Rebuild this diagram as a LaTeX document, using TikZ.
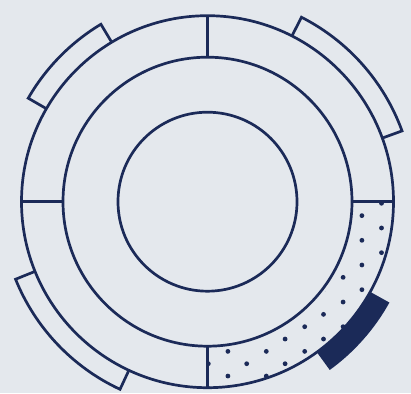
\documentclass[tikz,border=0pt]{standalone}
\definecolor{navy}{HTML}{1B2A58}
\definecolor{paper}{HTML}{E4E8ED}
\begin{document}
\begin{tikzpicture}[x=1pt,y=1pt,line width=2.7pt,draw=navy]
    \def\rin{89.5}
    \def\rmid{144.5}
    \def\rout{186}
    \def\rtab{207}
    \fill[paper] (-207.5,-191.3) rectangle (203.5,201.7);
    \useasboundingbox (-207.5,-191.3) rectangle (203.5,201.7);
    \begin{scope}
        \clip (0,-148) -- (0,-\rout) arc(-90:0:\rout) -- (148,0) arc(0:-90:148) -- cycle;
        \foreach\k in{0,1,...,15}{
            \foreach\m in{0,1,...,5}{
                \fill[navy] ({0.8+19.6*mod(\k+1,2)+38.4*\m},{-1.6-12.34*\k}) circle(2.4);
            }
        }
    \end{scope}
    \draw (0,0) circle(\rin);
    \draw (0,0) circle(\rmid);
    \draw (0,0) circle(\rout);
    \draw (0,\rmid) -- (0,\rout);
    \draw (0,-\rmid) -- (0,-\rout);
    \draw (-\rout,0) -- (-\rmid,0);
    \draw (\rmid,0) -- (\rout,0);
    \foreach\a/\b in{121/150,20/63,202/245}{
        \draw (\a:\rout) -- (\a:\rtab) arc(\a:\b:\rtab) -- (\b:\rout);
    }
    \fill[navy] (-54:\rout) arc(-54:-29:\rout) -- (-29:\rtab+1) arc(-29:-54:\rtab+1) -- cycle;
\end{tikzpicture}
\end{document}
